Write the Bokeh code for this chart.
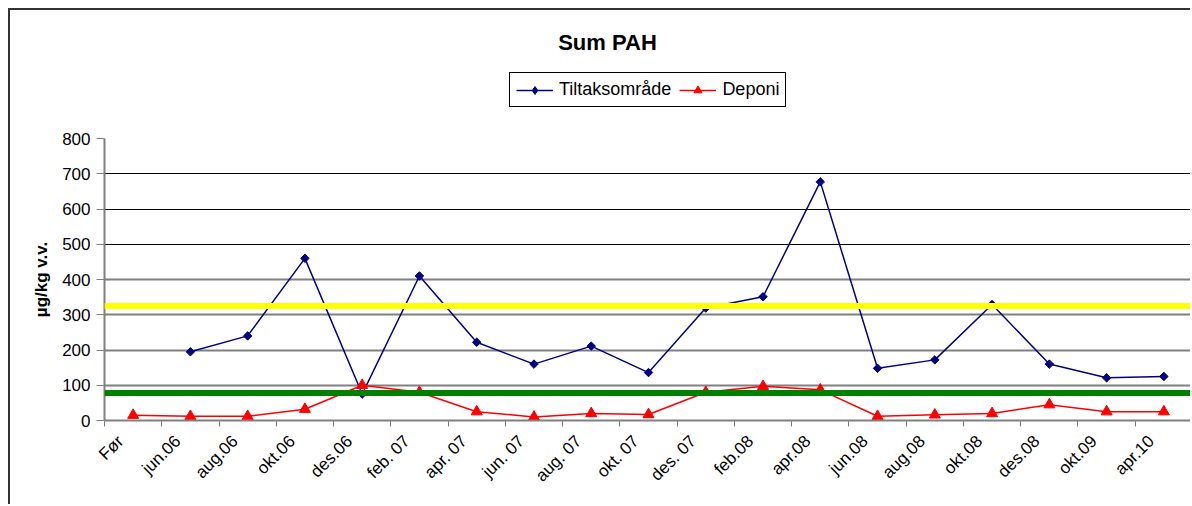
import math
import numpy as np
from bokeh.plotting import figure
from bokeh.layouts import column
from bokeh.models import (FixedTicker, Span, Legend, LegendItem, Range1d, Grid, Label)
from bokeh.embed import file_html
from bokeh.resources import INLINE

categories = ["Før", "jun.06", "aug.06", "okt.06", "des.06", "feb. 07", "apr. 07",
              "jun. 07", "aug. 07", "okt. 07", "des. 07", "feb.08", "apr.08",
              "jun.08", "aug.08", "okt.08", "des.08", "okt.09", "apr.10"]
tiltak = [np.nan, 195, 240, 460, 75, 410, 222, 160, 211, 136, 319, 351, 677,
          148, 172, 329, 160, 121, 125]
deponi = [15, 12, 12, 32, 100, 80, 25, 10, 20, 17, 80, 97, 87, 12, 16, 20, 45, 25, 25]
yellow_limit = 325
green_limit = 78
y_ticks = [0, 100, 200, 300, 400, 500, 600, 700, 800]

FONT = "Liberation Sans"
NAVY = "#000080"
RED = "#FF0000"
n = len(categories)
xc = [i + 0.5 for i in range(n)]
LABEL_SHIFT = 0.22
xl = [x - LABEL_SHIFT for x in xc]

# ---------------- header (title + legend) ----------------
head = figure(width=1182, height=118, x_range=Range1d(-30, -20), y_range=Range1d(-30, -20),
              output_backend="svg", toolbar_location=None,
              x_axis_location=None, y_axis_location=None,
              min_border=0, min_border_left=0, min_border_right=0,
              min_border_top=0, min_border_bottom=0)
head.outline_line_color = None
head.xgrid.grid_line_color = None
head.ygrid.grid_line_color = None
head.styles = {"border-left": "2px solid #333333", "border-top": "2px solid #333333",
               "margin-left": "8px", "margin-top": "8px"}

# legend icon renderers (kept outside the visible header range)
hl1 = head.line(xc, tiltak, line_color=NAVY, line_width=1.5)
hs1 = head.scatter(xc, tiltak, marker="diamond", size=10, fill_color=NAVY, line_color=NAVY)
hl2 = head.line(xc, deponi, line_color=RED, line_width=1.5)
hs2 = head.scatter(xc, deponi, marker="triangle", size=11, fill_color=RED, line_color=RED)

legend = Legend(items=[LegendItem(label="Tiltaksområde", renderers=[hl1, hs1]),
                       LegendItem(label="Deponi", renderers=[hl2, hs2])],
                orientation="horizontal", location=(405, 21),
                border_line_color="#000000", border_line_width=1, border_line_alpha=1,
                padding=6, spacing=8, glyph_width=37, glyph_height=20, label_standoff=6,
                label_height=20, label_text_font=FONT, label_text_font_size="18px",
                label_text_color="#000000",
                margin=0, background_fill_color="#FFFFFF", background_fill_alpha=1)
head.add_layout(legend)

head.add_layout(Label(x=503, y=86, x_units="screen", y_units="screen", text="Sum PAH",
                      text_font=FONT, text_font_size="22px", text_font_style="bold",
                      text_align="center", text_baseline="middle", text_color="#000000"))

# ---------------- main chart ----------------
p = figure(width=1182, height=378, x_range=Range1d(0, n), y_range=Range1d(0, 800),
           output_backend="svg", toolbar_location=None,
           min_border_left=94, min_border_right=0, min_border_top=12, min_border_bottom=84)
p.outline_line_color = None
p.styles = {"border-left": "2px solid #333333", "margin-left": "8px"}

p.xgrid.grid_line_color = None
p.ygrid.ticker = FixedTicker(ticks=[t for t in y_ticks if t >= 500])
p.ygrid.grid_line_color = "#000000"
p.ygrid.grid_line_width = 1
p.add_layout(Grid(dimension=1, ticker=FixedTicker(ticks=[t for t in y_ticks if 0 < t < 500]),
                  grid_line_color="#808080", grid_line_width=2))

yax = p.yaxis[0]
yax.ticker = FixedTicker(ticks=y_ticks)
yax.axis_line_color = "#808080"
yax.axis_line_width = 2
yax.major_tick_out = 8
yax.major_tick_in = 0
yax.major_tick_line_color = "#808080"
yax.minor_tick_line_color = None
yax.major_label_text_font = FONT
yax.major_label_text_font_size = "17px"
yax.major_label_text_color = "#000000"
yax.major_label_standoff = 6
yax.axis_label = "µg/kg v.v."
yax.axis_label_text_font = FONT
yax.axis_label_text_font_size = "17px"
yax.axis_label_text_font_style = "bold"
yax.axis_label_text_color = "#000000"
yax.axis_label_standoff = 8

xax = p.xaxis[0]
xax.ticker = FixedTicker(ticks=xl, minor_ticks=list(range(n + 1)))
xax.major_label_overrides = {x: c for x, c in zip(xl, categories)}
xax.axis_line_color = "#808080"
xax.axis_line_width = 2
xax.major_tick_out = 0
xax.major_tick_in = 0
xax.minor_tick_out = 6
xax.minor_tick_in = 0
xax.minor_tick_line_color = "#808080"
xax.minor_tick_line_width = 1
xax.major_label_orientation = math.pi / 4
xax.major_label_text_font = FONT
xax.major_label_text_font_size = "17px"
xax.major_label_text_color = "#000000"
xax.major_label_standoff = 12

p.line(xc, tiltak, line_color=NAVY, line_width=1.5)
p.scatter(xc, tiltak, marker="square", angle=math.pi / 4, size=6,
          fill_color=NAVY, line_color=NAVY)
p.line(xc, deponi, line_color=RED, line_width=1.5)
p.scatter(xc, deponi, marker="triangle", size=11, fill_color=RED, line_color=RED)

p.add_layout(Span(location=yellow_limit, dimension="width", line_color="#FFFF00", line_width=6))
p.add_layout(Span(location=green_limit, dimension="width", line_color="#008000", line_width=6))

layout = column(head, p, spacing=0)
open("out.html", "w").write(file_html(layout, INLINE))
